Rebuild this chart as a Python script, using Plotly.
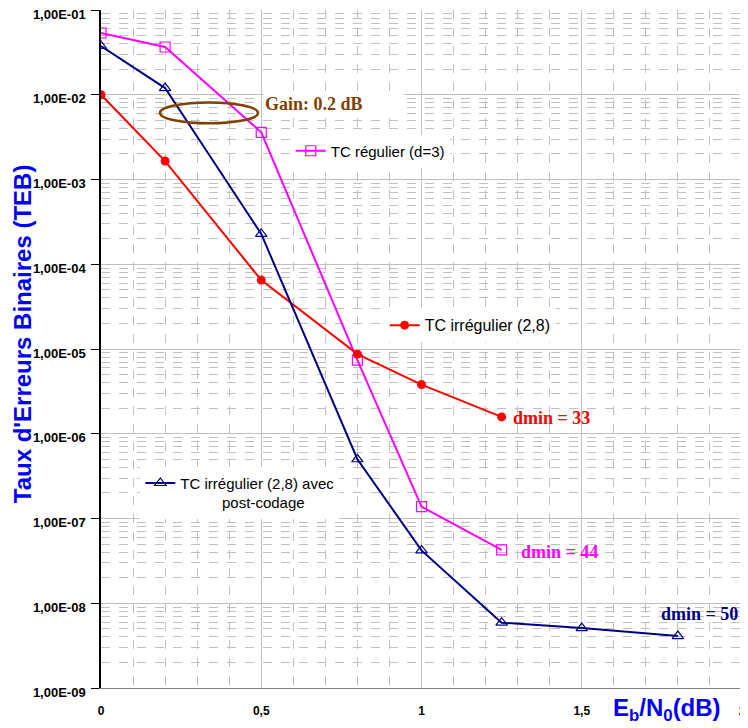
import plotly.graph_objects as go

# Eb/N0 in dB
x_reg = [0, 0.2, 0.5, 0.8, 1.0, 1.25]
teb_reg = [5.35e-2, 3.66e-2, 3.6e-3, 7.4e-6, 1.38e-7, 4.26e-8]

x_irr = [0, 0.2, 0.5, 0.8, 1.0, 1.25]
teb_irr = [1.0e-2, 1.65e-3, 6.5e-5, 8.7e-6, 3.8e-6, 1.58e-6]

x_post = [0, 0.2, 0.5, 0.8, 1.0, 1.25, 1.5, 1.8]
teb_post = [3.76e-2, 1.2e-2, 2.28e-4, 5.0e-7, 4.2e-8, 5.9e-9, 5.1e-9, 4.1e-9]

y_tick_vals = [1e-1, 1e-2, 1e-3, 1e-4, 1e-5, 1e-6, 1e-7, 1e-8, 1e-9]
y_tick_text = ["1,00E-01", "1,00E-02", "1,00E-03", "1,00E-04", "1,00E-05",
               "1,00E-06", "1,00E-07", "1,00E-08", "1,00E-09"]
x_tick_vals = [0, 0.5, 1, 1.5, 2]
x_tick_text = ["0", "0,5", "1", "1,5", "2"]

magenta = "#FF00FF"
red = "#FF0000"
navy = "#000080"
brown = "#804000"
grid = "#C0C0C0"
arial = "Arial, Liberation Sans"
times = "Liberation Serif, Times New Roman"

fig = go.Figure()

fig.add_trace(go.Scatter(
    x=x_reg, y=teb_reg, mode="lines+markers", name="TC régulier (d=3)",
    line=dict(color=magenta, width=2),
    marker=dict(symbol="square-open", size=10, color=magenta, line=dict(width=1.2)),
    legend="legend",
))
fig.add_trace(go.Scatter(
    x=x_irr, y=teb_irr, mode="lines+markers", name="TC irrégulier (2,8)",
    line=dict(color=red, width=2),
    marker=dict(symbol="circle", size=9, color=red),
    legend="legend2",
))
fig.add_trace(go.Scatter(
    x=x_post, y=teb_post, mode="lines+markers",
    name="TC irrégulier (2,8) avec<br>          post-codage",
    line=dict(color=navy, width=2),
    marker=dict(symbol="triangle-up-open", size=10, color=navy, line=dict(width=1.2)),
    legend="legend3",
))

leg_common = dict(bgcolor="white", borderwidth=0, itemwidth=30, valign="top",
                  xanchor="left", yanchor="middle", tracegroupgap=0)
fig.update_layout(
    legend=dict(x=0.296, y=0.792, font=dict(family=arial, size=15, color="black"), **leg_common),
    legend2=dict(x=0.4425, y=0.535, font=dict(family=arial, size=16, color="black"), **leg_common),
    legend3=dict(x=0.0614, y=0.288, font=dict(family=arial, size=15, color="black"), **leg_common),
)

# ellipse around the 0.2 dB gain
fig.add_shape(type="circle", xref="x", yref="y",
              x0=0.184, x1=0.49, y0=4.6e-3, y1=8.1e-3,
              line=dict(color=brown, width=2.5))

fig.add_annotation(x=0.2527, y=0.8614, xref="paper", yref="paper",
                   xanchor="left", yanchor="middle", width=137, height=24, align="left",
                   text="<b>Gain: 0.2 dB</b>", showarrow=False, bgcolor="white",
                   font=dict(family=times, size=18, color=brown))

for xv, yv, txt, col in [(1.278, -5.814, "dmin = 33", red),
                         (1.303, -7.395, "dmin = 44", magenta),
                         (1.741, -8.127, "dmin = 50", navy)]:
    fig.add_annotation(x=xv, y=yv, xref="x", yref="y", text="<b>" + txt + "</b>",
                       showarrow=False, xanchor="left", yanchor="middle",
                       font=dict(family=times, size=18, color=col))

# axis titles
fig.add_annotation(x=-0.123, y=0.522, xref="paper", yref="paper", textangle=-90,
                   xanchor="center", yanchor="middle",
                   text="<b>Taux d'Erreurs Binaires (TEB)</b>", showarrow=False,
                   font=dict(family=arial, size=24, color="#0000FF"))
fig.add_annotation(x=0.883, y=-0.032, xref="paper", yref="paper",
                   xanchor="center", yanchor="middle",
                   text="<b>E<sub>b</sub>/N<sub>0</sub>(dB)</b>", showarrow=False,
                   font=dict(family=arial, size=24, color="#0000FF"))

fig.update_xaxes(
    range=[0, 2], tickvals=x_tick_vals, ticktext=x_tick_text,
    showgrid=True, gridcolor=grid, gridwidth=1, zeroline=False,
    minor=dict(dtick=0.1, showgrid=True, gridcolor=grid, griddash="dash", gridwidth=1),
    showline=True, linecolor="#808080", linewidth=1, ticks="",
    ticklabelstandoff=12, automargin=False, ticklabeloverflow="allow",
    tickfont=dict(family=arial, size=12, color="black", weight="bold"),
)
# labels nudged down a little so the top one is not cut by the page edge
fig.update_yaxes(
    type="log", range=[-9, -1], tickvals=y_tick_vals, ticktext=y_tick_text,
    showgrid=True, gridcolor=grid, gridwidth=1, zeroline=False,
    minor=dict(dtick="D1", showgrid=True, gridcolor=grid, griddash="dash", gridwidth=1),
    showline=True, linecolor="black", linewidth=1.5,
    ticks="outside", ticklen=8, tickcolor="black", ticklabelstandoff=3, ticklabelshift=4,
    automargin=False, ticklabeloverflow="allow",
    tickfont=dict(family=arial, size=13, color="black", weight="bold"),
)

# the page body adds an 8px offset, so the figure is 8px smaller and margins shifted
fig.update_layout(
    width=740, height=720,
    margin=dict(l=93, r=6, t=2, b=40),
    paper_bgcolor="white", plot_bgcolor="white",
    showlegend=True,
)

fig.write_html("out.html")
